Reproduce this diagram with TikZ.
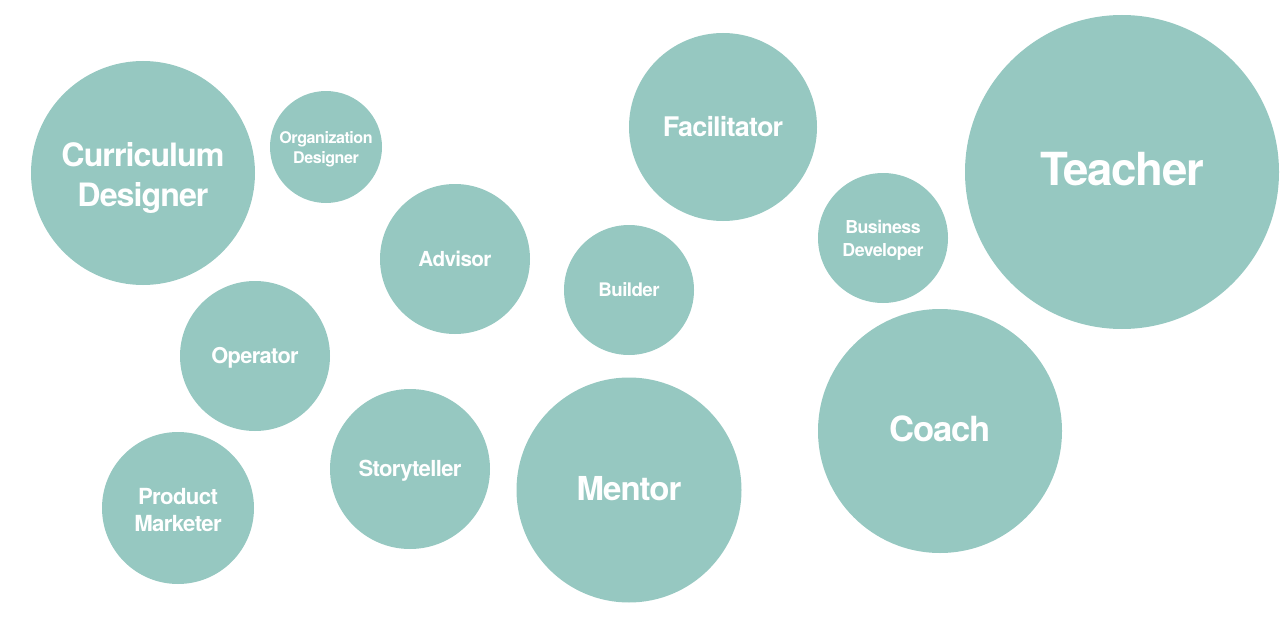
\documentclass[tikz,border=0pt]{standalone}
\usepackage{fontspec}
\newfontfamily\bub{TeX Gyre Heros}[LetterSpace=-3]
\definecolor{bubble}{HTML}{96C8C1}
\tikzset{
  bubblenode/.style={circle, fill=bubble, draw=none, inner sep=0pt, minimum size=#1},
  bubbletext/.style={inner sep=0pt, align=center, text=white},
  fs/.style 2 args={font=\bub\bfseries\fontsize{#1}{#2}\selectfont}
}
\begin{document}
\begin{tikzpicture}[x=1pt,y=-1pt]
\useasboundingbox (0,0) rectangle (1280,618);
\node[bubblenode=224pt] (curr) at (143,173) {};
\node[bubblenode=112pt] (org) at (326,147) {};
\node[bubblenode=188pt] (fac) at (723,127) {};
\node[bubblenode=314pt] (teach) at (1122,172) {};
\node[bubblenode=130pt] (bus) at (883,238) {};
\node[bubblenode=150pt] (adv) at (455,259) {};
\node[bubblenode=130pt] (build) at (629,290) {};
\node[bubblenode=150pt] (op) at (255,356) {};
\node[bubblenode=244pt] (coach) at (940,431) {};
\node[bubblenode=160pt] (story) at (410,469) {};
\node[bubblenode=225pt] (mentor) at (629,490) {};
\node[bubblenode=152pt] (prod) at (178,508) {};

\node[bubbletext, fs={32.2}{40}] (currt) at ([yshift=-5pt]curr.center) {Curriculum\\Designer};
\node[bubbletext, fs={16.1}{20}] (orgt) at ([yshift=-2pt]org.center) {Organization\\Designer};
\node[bubbletext, fs={27}{32}] (fact) at (fac.center) {Facilitator};
\node[bubbletext, fs={45.6}{54}] (teacht) at ([yshift=3pt]teach.center) {Teacher};
\node[bubbletext, fs={17.8}{23}] (bust) at ([yshift=-2pt]bus.center) {Business\\Developer};
\node[bubbletext, fs={20.7}{25}] (advt) at (adv.center) {Advisor};
\node[bubbletext, fs={18.7}{23}] (buildt) at (build.center) {Builder};
\node[bubbletext, fs={21.8}{26}] (opt) at ([yshift=-2pt]op.center) {Operator};
\node[bubbletext, fs={34.7}{42}] (coacht) at ([yshift=2pt]coach.center) {Coach};
\node[bubbletext, fs={22.1}{27}] (storyt) at ([yshift=-2pt]story.center) {Storyteller};
\node[bubbletext, fs={33}{40}] (mentort) at ([yshift=1pt]mentor.center) {Mentor};
\node[bubbletext, fs={22.2}{27}] (prodt) at ([yshift=-2pt]prod.center) {Product\\Marketer};
\end{tikzpicture}
\end{document}
